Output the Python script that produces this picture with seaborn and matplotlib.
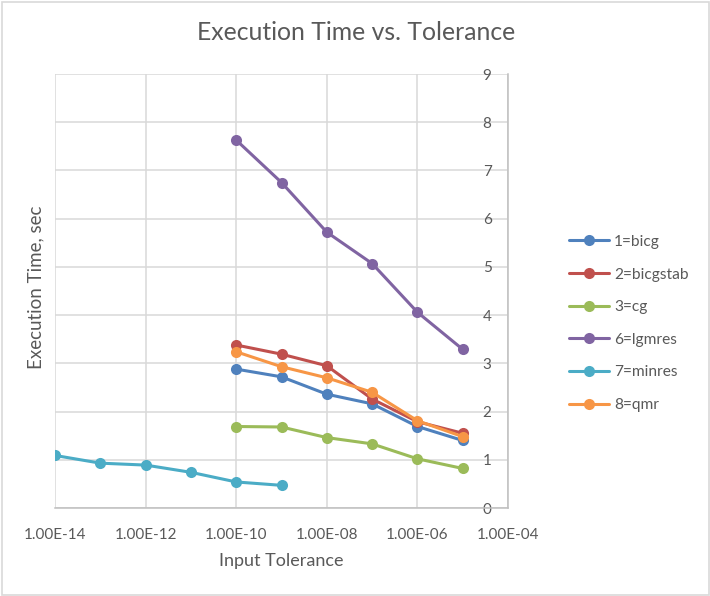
import pandas as pd
import seaborn as sns
import matplotlib.pyplot as plt
from matplotlib.patches import Rectangle
# --------------------------------------------------------------------------------------------------
# Chart data
tol_main = [1e-10, 1e-9, 1e-8, 1e-7, 1e-6, 1e-5]
tol_minres = [1e-14, 1e-13, 1e-12, 1e-11, 1e-10, 1e-9]

bicg = [2.88, 2.72, 2.36, 2.16, 1.69, 1.40]
bicgstab = [3.38, 3.19, 2.95, 2.26, 1.79, 1.55]
cg = [1.69, 1.68, 1.46, 1.33, 1.02, 0.82]
lgmres = [7.63, 6.75, 5.72, 5.07, 4.06, 3.29]
minres = [1.09, 0.93, 0.89, 0.74, 0.54, 0.47]
qmr = [3.24, 2.93, 2.70, 2.40, 1.81, 1.48]

solver_names = ["1=bicg", "2=bicgstab", "3=cg", "6=lgmres", "7=minres", "8=qmr"]
solver_colors = ["#4F81BD", "#C0504D", "#9BBB59", "#8064A2", "#4BACC6", "#F79646"]

x_ticks = [1e-14, 1e-12, 1e-10, 1e-8, 1e-6, 1e-4]
x_tick_labels = ["1.00E-14", "1.00E-12", "1.00E-10", "1.00E-08", "1.00E-06", "1.00E-04"]
y_ticks = [0, 1, 2, 3, 4, 5, 6, 7, 8, 9]
# --------------------------------------------------------------------------------------------------
# Long-format table for seaborn
series = [bicg, bicgstab, cg, lgmres, minres, qmr]
tols = [tol_main, tol_main, tol_main, tol_main, tol_minres, tol_main]
rows = []
for name, tol, vals in zip(solver_names, tols, series):
    for t, v in zip(tol, vals):
        rows.append({"tolerance": t, "time": v, "solver": name})
df = pd.DataFrame(rows)
# --------------------------------------------------------------------------------------------------
sns.set_style("white")
plt.rcParams["font.family"] = ["Lato", "DejaVu Sans"]
text_color = "#595959"
grid_color = "#D9D9D9"

fig = plt.figure(figsize=(7.1, 5.96), dpi=100)
ax = fig.add_axes([55 / 710, 1 - 508 / 596, (508 - 55) / 710, (508 - 74) / 596])
ax.set_xscale("log")

sns.lineplot(data=df, x="tolerance", y="time", hue="solver", hue_order=solver_names,
             palette=solver_colors, marker="o", markersize=8, markeredgewidth=0,
             linewidth=2.2, sort=False, estimator=None, ax=ax)

ax.set_xlim(1e-14, 1e-4)
ax.set_ylim(0, 9)
ax.xaxis.set_major_locator(plt.FixedLocator(x_ticks))
ax.xaxis.set_minor_locator(plt.NullLocator())
ax.set_xticklabels(x_tick_labels)
ax.set_yticks(y_ticks)

# gridlines and axes lines
ax.grid(True, color=grid_color, linewidth=1.1)
ax.set_axisbelow(True)
for side in ["top", "left"]:
    ax.spines[side].set_visible(False)
for side in ["right", "bottom"]:
    ax.spines[side].set_color("#BFBFBF")
    ax.spines[side].set_linewidth(1.1)

# y labels sit just inside the right-hand axis line
ax.yaxis.tick_right()
ax.tick_params(axis="y", length=0, pad=-15, labelsize=11, labelcolor=text_color)
plt.setp(ax.get_yticklabels(), ha="center")
ax.tick_params(axis="x", length=0, pad=14.5, labelsize=11, labelcolor=text_color)

ax.set_xlabel("Input Tolerance", fontsize=13, color=text_color, labelpad=8)
ax.set_ylabel("")
fig.text(36 / 710, 1 - 287 / 596, "Execution Time, sec", rotation=90, fontsize=13.5,
         color=text_color, ha="center", va="center")
fig.text(356 / 710, 1 - 33 / 596, "Execution Time vs. Tolerance", fontsize=17.8,
         color=text_color, ha="center", va="center")

# legend to the right of the plot
handles, labels = ax.get_legend_handles_labels()
ax.legend(handles, labels, loc="center left", bbox_to_anchor=(569 / 710, 1 - 323.5 / 596),
          bbox_transform=fig.transFigure, frameon=False, fontsize=11.2, labelcolor=text_color,
          handlelength=2.6, handletextpad=0.3, labelspacing=1.2, borderpad=0, borderaxespad=0)

# light chart border
fig.patches.append(Rectangle((0.003, 0.002), 0.995, 0.995, transform=fig.transFigure,
                             fill=False, edgecolor=grid_color, linewidth=1.2))

fig.savefig("out.png", dpi=100)
